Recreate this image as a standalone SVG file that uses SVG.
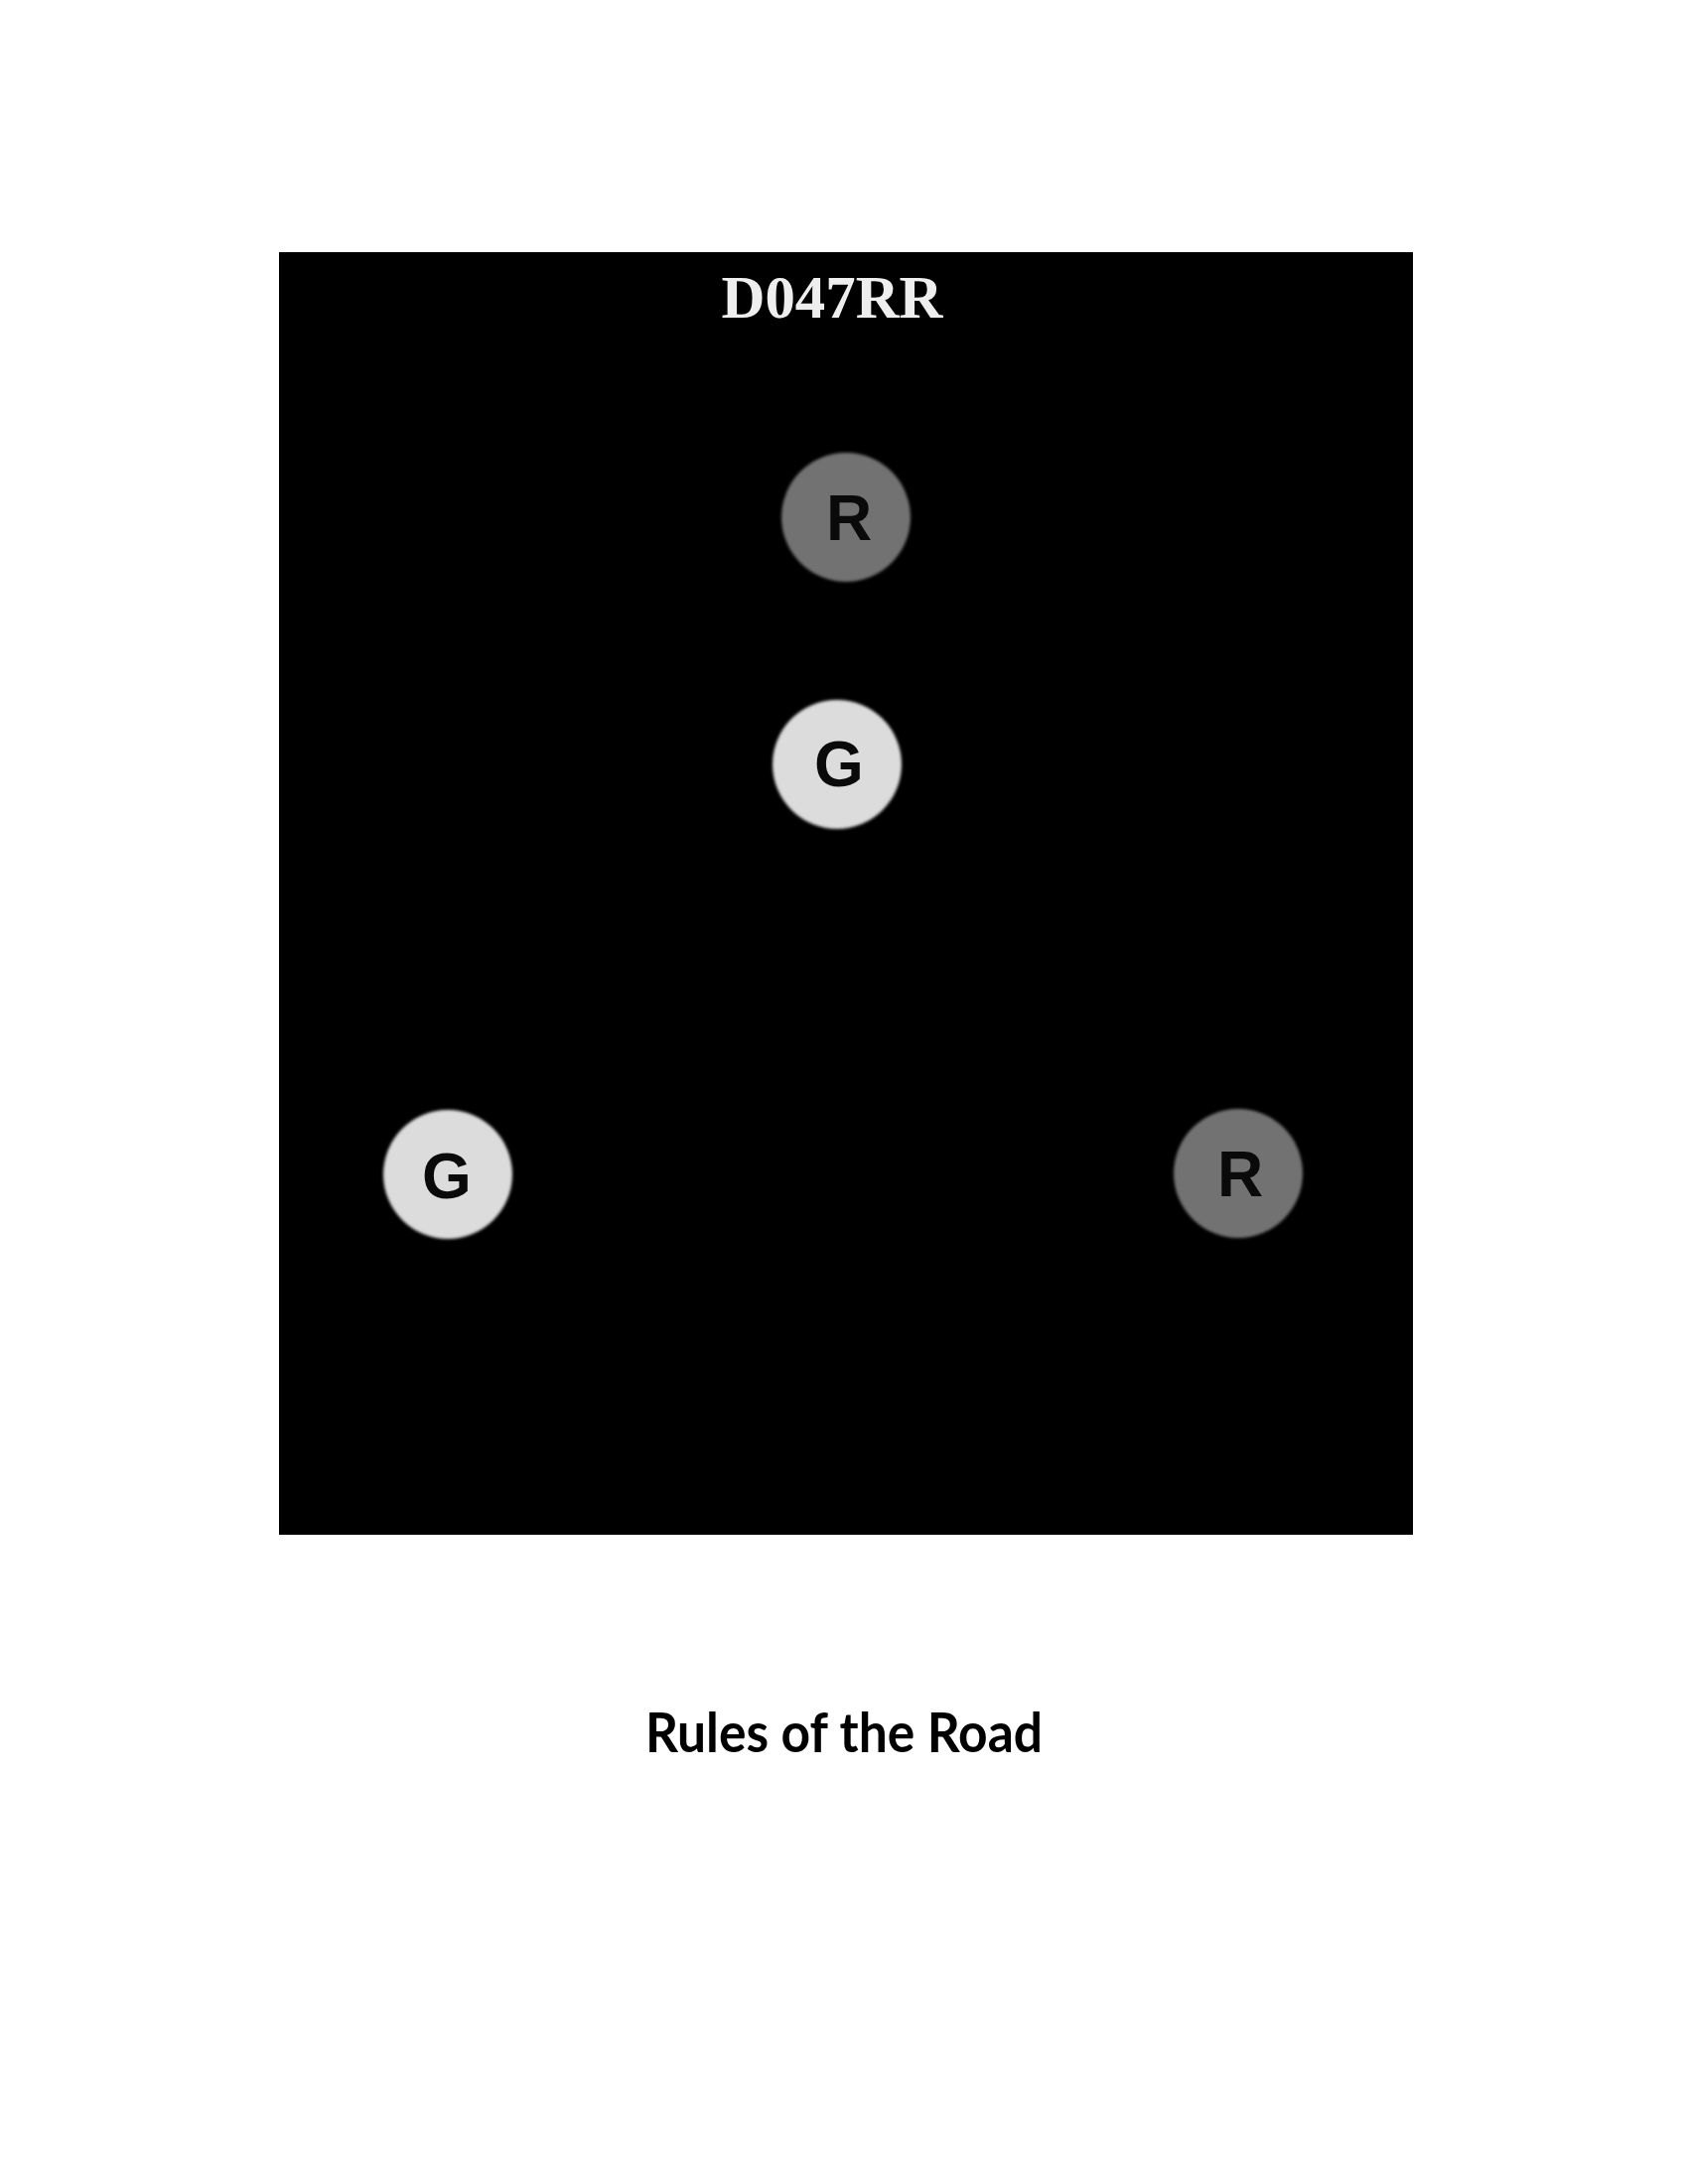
<svg xmlns="http://www.w3.org/2000/svg" width="1700" height="2200" viewBox="0 0 1700 2200">
<style>
.light{fill:#727272}
.lamp-g{fill:#dcdcdc}
.lbl{font-family:"Liberation Sans",Arial,sans-serif;font-weight:bold;font-size:64px;fill:#0a0a0a;text-anchor:middle}
.title{font-family:"Liberation Serif","Times New Roman",serif;font-weight:bold;font-size:62px;fill:#eeeeee;text-anchor:middle}
.caption{font-family:Lato,"Open Sans","Liberation Sans",sans-serif;font-weight:bold;font-size:55px;fill:#000;text-anchor:middle}
</style>
<defs>
<filter id="soft" x="-20%" y="-20%" width="140%" height="140%"><feGaussianBlur stdDeviation="1.5"/></filter>
</defs>
<rect width="1700" height="2200" fill="#ffffff"/>
<rect x="281" y="254" width="1142" height="1292" fill="#000000"/>
<text class="title" x="838" y="320" textLength="223" lengthAdjust="spacingAndGlyphs">D047RR</text>
<g id="connectors"></g>
<g id="top-r">
<circle cx="852" cy="521" r="65" class="light" filter="url(#soft)"/>
<text class="lbl" x="855" y="544">R</text>
</g>
<g id="mid-g">
<circle cx="843" cy="770" r="65" class="lamp-g" filter="url(#soft)"/>
<text class="lbl" x="845" y="792">G</text>
</g>
<g id="left-g">
<circle cx="451" cy="1183" r="65" class="lamp-g" filter="url(#soft)"/>
<text class="lbl" x="450" y="1207">G</text>
</g>
<g id="right-r">
<circle cx="1247" cy="1182" r="65" class="light" filter="url(#soft)"/>
<text class="lbl" x="1249" y="1205">R</text>
</g>
<text class="caption" x="850" y="1765" textLength="400" lengthAdjust="spacingAndGlyphs">Rules of the Road</text>
</svg>
